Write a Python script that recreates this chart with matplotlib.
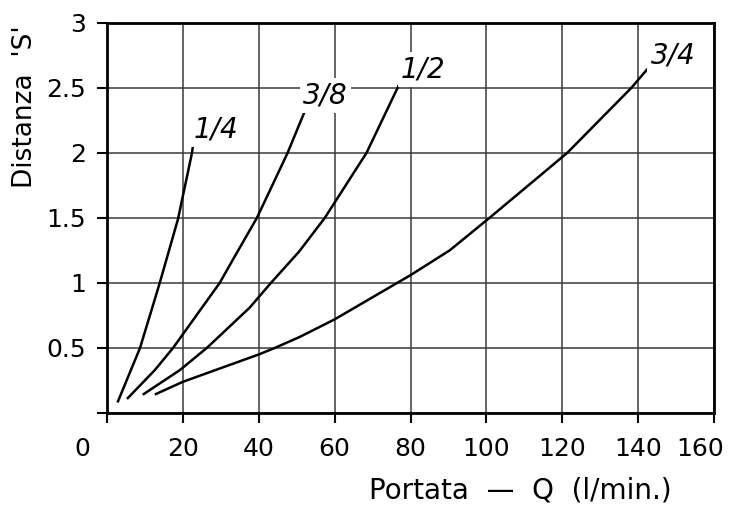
import matplotlib
matplotlib.use("Agg")
import matplotlib.pyplot as plt
import matplotlib.transforms as mtransforms

# Data
q_14 = [2.9, 8.7, 13.9, 18.7, 22.4, 22.9]
s_14 = [0.09, 0.50, 1.00, 1.49, 2.00, 2.11]

q_38 = [5.5, 12.6, 17.4, 29.7, 33.2, 39.5, 43.4, 47.6, 52.4]
s_38 = [0.115, 0.33, 0.50, 1.00, 1.18, 1.50, 1.74, 2.00, 2.34]

q_12 = [9.7, 19.2, 26.3, 37.6, 43.2, 50.6, 57.4, 68.4, 77.4]
s_12 = [0.146, 0.33, 0.50, 0.81, 1.00, 1.24, 1.50, 2.00, 2.55]

q_34 = [12.9, 20.0, 40.0, 44.2, 50.8, 60.0, 80.0, 90.3, 100.8, 121.3, 138.2, 142.6]
s_34 = [0.146, 0.24, 0.45, 0.50, 0.585, 0.72, 1.06, 1.25, 1.50, 2.00, 2.50, 2.65]

labels = ["1/4", "3/8", "1/2", "3/4"]
label_pos = [(28.7, 2.18), (57.6, 2.44), (83.4, 2.64), (149.2, 2.75)]

x_ticks = [0, 20, 40, 60, 80, 100, 120, 140, 160]
y_ticks = [0, 0.5, 1, 1.5, 2, 2.5, 3]
y_ticklabels = ["", "0.5", "1", "1.5", "2", "2.5", "3"]

fig = plt.figure(figsize=(7.38, 5.08), dpi=100)
ax = fig.add_axes([0.145, 0.187, 0.8225, 0.768])

for q, s in [(q_14, s_14), (q_38, s_38), (q_12, s_12), (q_34, s_34)]:
    ax.plot(q, s, color="black", lw=1.8, zorder=3, solid_joinstyle="round")

for lab, (x, y) in zip(labels, label_pos):
    ax.text(x, y, lab, ha="center", va="center", fontsize=20, style="italic",
            bbox=dict(facecolor="white", edgecolor="none", pad=2.5), zorder=4)

ax.set_xlim(0, 160)
ax.set_ylim(0, 3)
ax.set_xticks(x_ticks)
ax.set_yticks(y_ticks)
ax.set_yticklabels(y_ticklabels)
ax.grid(True, color="#3a3a3a", lw=1.1)
ax.tick_params(direction="out", length=7, width=1.5, labelsize=18)
ax.tick_params(axis="x", pad=10)
ax.tick_params(axis="y", pad=8)
for sp in ax.spines.values():
    sp.set_linewidth(2)

# shift the end labels inward as in the reference
xt = ax.xaxis.get_major_ticks()
for idx, dx in [(0, -18), (-1, -10)]:
    lbl = xt[idx].label1
    lbl.set_transform(lbl.get_transform() + mtransforms.ScaledTranslation(dx / 72, 0, fig.dpi_scale_trans))

fig.text(0.034, 0.79, "Distanza  'S'", rotation=90, ha="center", va="center", fontsize=19)
fig.text(0.705, 0.035, "Portata  \u2014  Q  (l/min.)", ha="center", va="center", fontsize=20)

fig.savefig("out.png", dpi=100)
